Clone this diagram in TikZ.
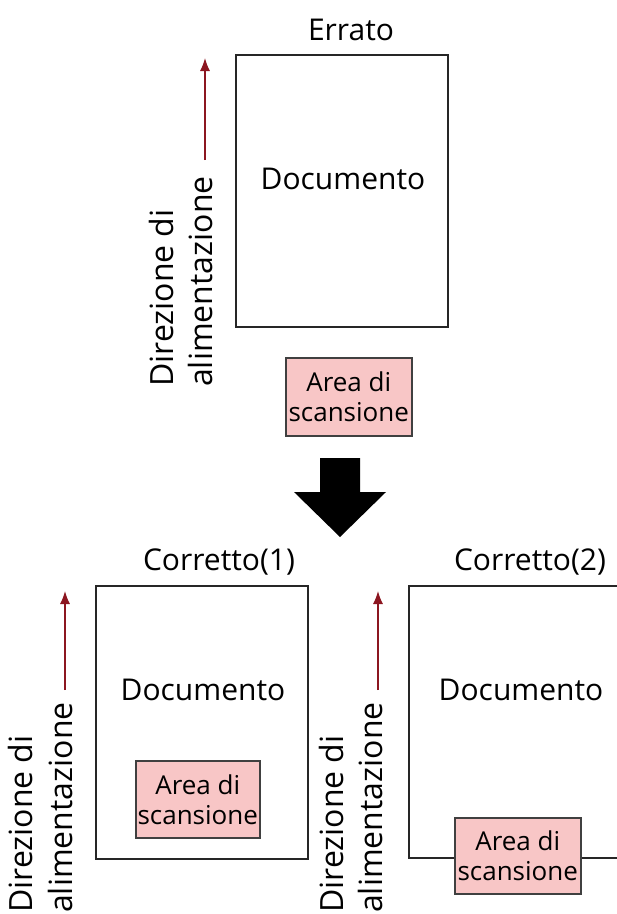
\documentclass[tikz,border=0pt]{standalone}
\usepackage{fontspec}
\setmainfont{Open Sans}
\usetikzlibrary{arrows.meta}
\definecolor{feedred}{RGB}{140,22,32}
\definecolor{scanpink}{RGB}{248,198,198}
\begin{document}
\begin{tikzpicture}[x=1pt,y=-1pt,
  doc/.style={draw=black!85,line width=1.8pt,fill=white,inner sep=0pt,anchor=north west},
  scan/.style={draw=black!75,line width=1.5pt,fill=scanpink,inner sep=0pt,anchor=north west,
    align=center,font=\fontsize{26}{30}\selectfont},
  lbl/.style={inner sep=0pt,anchor=base,font=\fontsize{30}{36}\selectfont},
  feedtxt/.style={inner sep=0pt,rotate=90,anchor=base west,font=\fontsize{32}{38}\selectfont},
  feed/.style={draw=feedred,line width=1.3pt,-{Latex[length=13pt,width=10pt]}}]
\useasboundingbox (0,0) rectangle (617,914);
\clip (0,0) rectangle (617,914);
% top
\node[lbl] (t0) at (351,40) {Errato};
\node[doc,minimum width=212pt,minimum height=272pt] (d0) at (235,54) {};
\node[lbl] (dt0) at (343,189) {Documento};
\node[scan,minimum width=126pt,minimum height=78pt] (s0) at (285,357) {Area di\\scansione};
\coordinate (f0s) at (205,160);
\coordinate (f0e) at (205,58);
\draw[feed] (f0s) -- (f0e);
\node[feedtxt] (ft0a) at (173,387) {Direzione di};
\node[feedtxt] (ft0b) at (212,387) {alimentazione};
% big arrow
\fill[black] (320,458) -- (360,458) -- (360,492) -- (386,492) -- (340,537) -- (294,492) -- (320,492) -- cycle;
% bottom left
\node[lbl] (t1) at (219,570) {Corretto(1)};
\node[doc,minimum width=212pt,minimum height=273pt] (d1) at (95,585) {};
\node[lbl] (dt1) at (203,700) {Documento};
\node[scan,minimum width=124pt,minimum height=77pt] (s1) at (135,760) {Area di\\scansione};
\coordinate (f1s) at (65,690);
\coordinate (f1e) at (65,591);
\draw[feed] (f1s) -- (f1e);
\node[feedtxt] (ft1a) at (32,913) {Direzione di};
\node[feedtxt] (ft1b) at (72,913) {alimentazione};
% bottom right
\node[lbl] (t2) at (530,570) {Corretto(2)};
\node[doc,minimum width=230pt,minimum height=272pt] (d2) at (408,585) {};
\node[lbl] (dt2) at (521,700) {Documento};
\node[scan,minimum width=126pt,minimum height=76pt] (s2) at (454,817) {Area di\\scansione};
\coordinate (f2s) at (378,690);
\coordinate (f2e) at (378,591);
\draw[feed] (f2s) -- (f2e);
\node[feedtxt] (ft2a) at (343,913) {Direzione di};
\node[feedtxt] (ft2b) at (382,913) {alimentazione};
\end{tikzpicture}
\end{document}
